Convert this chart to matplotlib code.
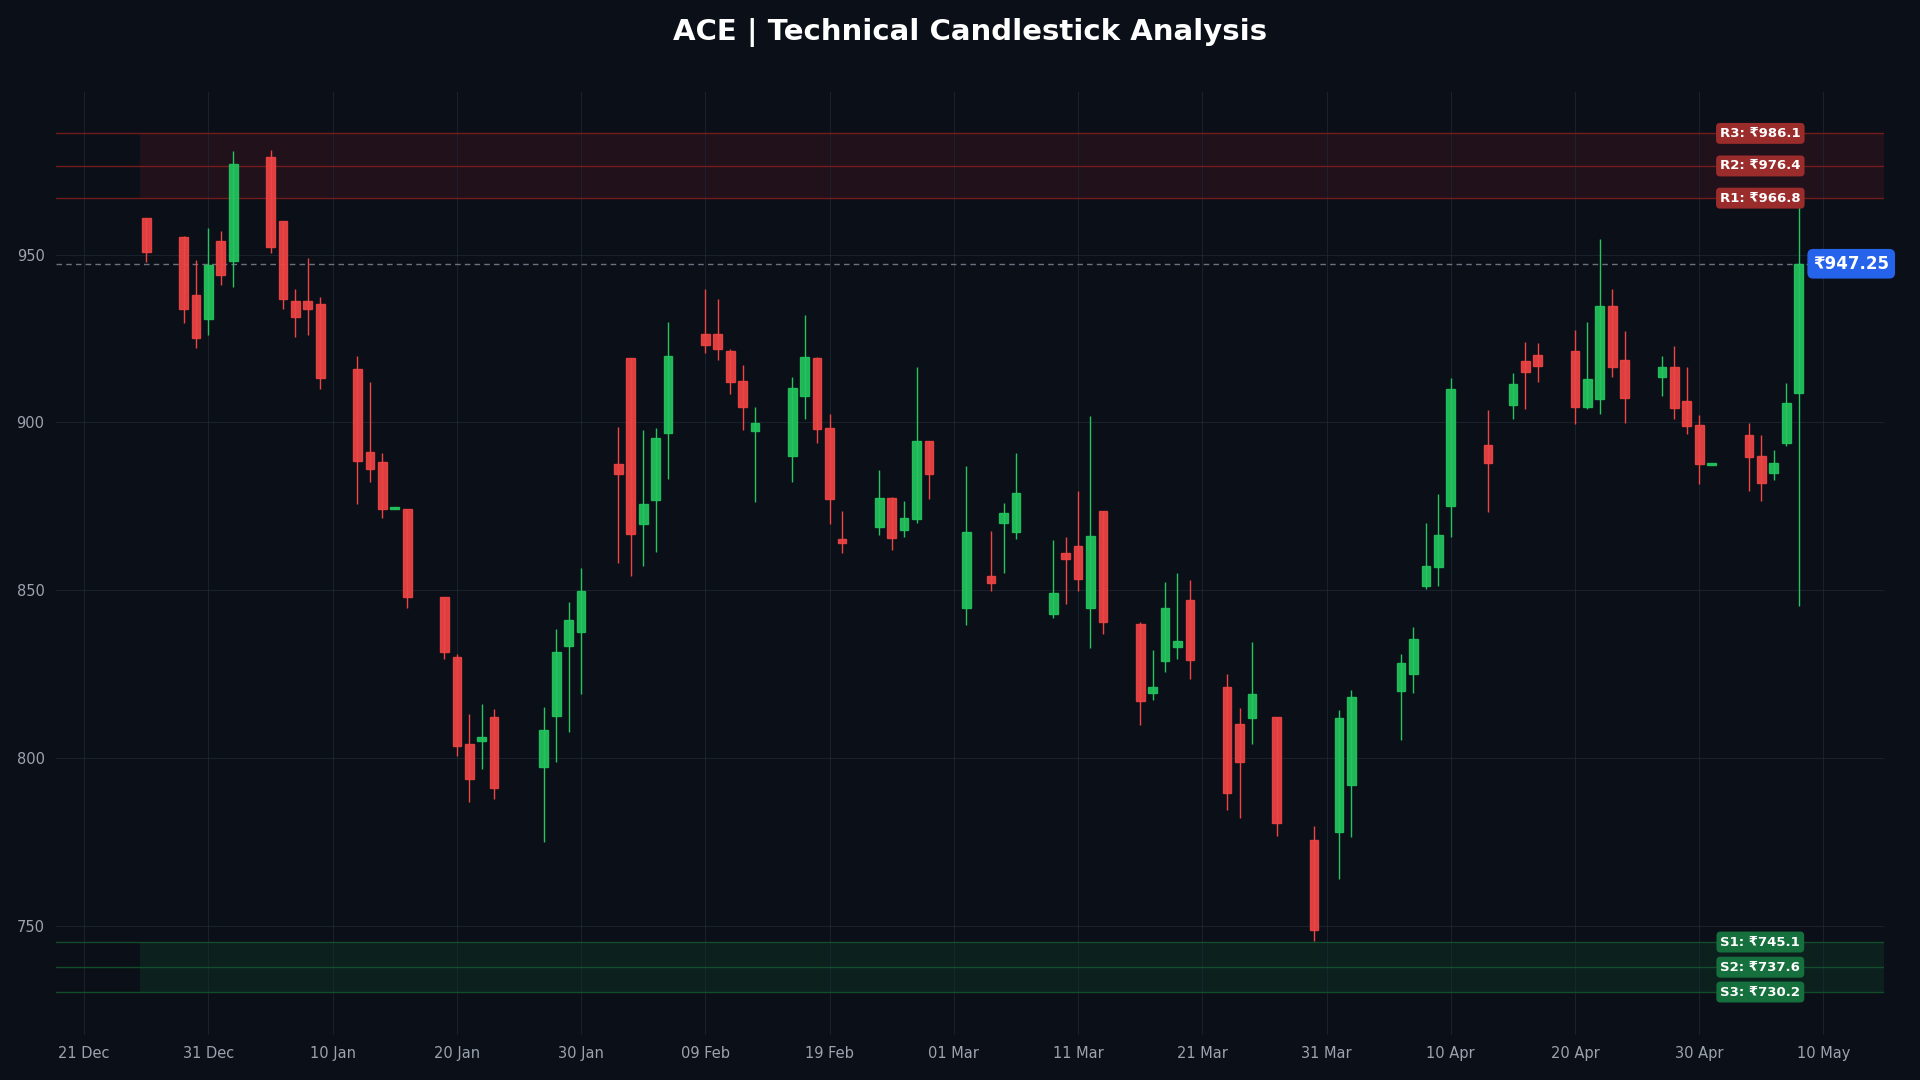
import matplotlib
matplotlib.use("Agg")
import matplotlib.pyplot as plt
import matplotlib.dates as mdates
from matplotlib.patches import Rectangle
import numpy as np
import datetime as dt

dates = ["2025-12-26","2025-12-29","2025-12-30","2025-12-31","2026-01-01","2026-01-02",
         "2026-01-05","2026-01-06","2026-01-07","2026-01-08","2026-01-09",
         "2026-01-12","2026-01-13","2026-01-14","2026-01-15","2026-01-16",
         "2026-01-19","2026-01-20","2026-01-21","2026-01-22","2026-01-23",
         "2026-01-27","2026-01-28","2026-01-29","2026-01-30",
         "2026-02-02","2026-02-03","2026-02-04","2026-02-05","2026-02-06",
         "2026-02-09","2026-02-10","2026-02-11","2026-02-12","2026-02-13",
         "2026-02-16","2026-02-17","2026-02-18","2026-02-19","2026-02-20",
         "2026-02-23","2026-02-24","2026-02-25","2026-02-26","2026-02-27",
         "2026-03-02","2026-03-04","2026-03-05","2026-03-06",
         "2026-03-09","2026-03-10","2026-03-11","2026-03-12","2026-03-13",
         "2026-03-16","2026-03-17","2026-03-18","2026-03-19","2026-03-20",
         "2026-03-23","2026-03-24","2026-03-25","2026-03-27",
         "2026-03-30","2026-04-01","2026-04-02",
         "2026-04-06","2026-04-07","2026-04-08","2026-04-09","2026-04-10",
         "2026-04-13","2026-04-15","2026-04-16","2026-04-17",
         "2026-04-20","2026-04-21","2026-04-22","2026-04-23","2026-04-24",
         "2026-04-27","2026-04-28","2026-04-29","2026-04-30","2026-05-01",
         "2026-05-04","2026-05-05","2026-05-06","2026-05-07","2026-05-08"]

opens = [960.9,955.2,937.9,930.7,954.0,948.2,
         979.0,960.0,936.1,936.1,935.2,
         915.8,891.1,888.1,874.3,874.3,
         848.0,830.0,804.0,805.0,812.1,
         797.3,812.5,833.4,837.6,
         887.5,919.1,869.6,876.8,896.8,
         926.3,926.3,921.2,912.3,897.3,
         889.9,907.7,919.1,898.2,865.2,
         868.7,877.4,867.8,871.1,894.4,
         844.6,854.1,869.9,867.2,
         842.8,861.0,863.1,844.6,873.5,
         840.0,819.2,828.8,832.9,847.0,
         821.0,810.0,811.8,812.1,
         775.4,778.0,792.0,
         820.0,825.0,851.2,857.0,875.0,
         893.2,905.1,918.2,920.0,
         921.2,904.5,906.9,934.6,918.5,
         913.4,916.4,906.3,899.1,887.4,
         896.2,889.9,884.8,893.8,908.7]

highs = [960.9,955.5,948.4,957.9,957.1,980.9,
         981.2,960.0,939.8,949.0,937.4,
         919.8,912.0,890.8,874.8,874.3,
         848.0,831.0,813.0,816.1,814.6,
         815.0,838.4,846.5,856.6,
         898.6,919.1,897.6,898.3,929.9,
         939.8,936.8,921.8,917.1,904.5,
         913.4,932.0,919.5,902.5,873.6,
         885.8,877.7,876.6,916.5,894.4,
         887.1,867.6,875.9,890.9,
         864.9,865.8,879.6,901.9,873.5,
         840.5,832.1,852.4,855.1,853.0,
         825.0,814.8,834.5,812.1,
         779.6,814.2,820.2,
         830.9,838.9,870.0,878.6,913.2,
         903.7,914.7,924.0,923.7,
         927.5,930.0,954.7,939.8,927.3,
         919.8,922.8,916.5,902.2,887.7,
         899.8,896.2,891.8,911.8,965.0]

lows = [947.9,929.7,922.0,926.1,941.0,940.2,
        950.6,933.8,925.3,925.9,909.9,
        875.7,882.2,871.6,874.2,844.8,
        829.6,800.6,786.9,796.7,787.7,
        775.0,798.9,807.8,819.0,
        858.2,854.3,857.3,861.3,883.2,
        920.8,918.7,908.3,897.8,876.3,
        882.3,901.1,893.7,869.8,860.9,
        866.5,861.9,865.9,870.0,877.0,
        839.6,849.8,855.2,865.3,
        841.8,845.7,849.8,832.8,837.0,
        809.9,817.2,825.7,829.5,823.6,
        784.5,782.2,804.2,776.8,
        745.3,763.9,776.5,
        805.4,819.4,850.2,851.3,865.9,
        873.4,900.9,904.0,911.9,
        899.6,904.0,902.6,913.6,899.9,
        907.7,901.1,896.6,881.7,887.3,
        879.6,876.6,882.9,892.8,845.3]

closes = [950.9,933.7,925.1,946.8,943.9,977.0,
          952.2,936.7,931.5,933.7,913.1,
          888.6,886.2,874.3,874.6,847.9,
          831.5,803.6,793.8,806.3,791.1,
          808.4,831.4,841.0,849.6,
          884.5,866.6,875.6,895.3,919.7,
          923.0,921.8,912.1,904.5,899.9,
          910.2,919.4,897.9,877.1,864.0,
          877.4,865.5,871.4,894.4,884.5,
          867.3,852.2,872.9,878.9,
          849.1,859.4,853.2,866.0,840.4,
          817.0,821.0,844.6,834.7,829.1,
          789.4,798.7,818.9,780.5,
          748.7,811.8,818.1,
          828.4,835.3,857.3,866.3,909.8,
          887.8,911.4,914.9,916.7,
          904.5,912.9,934.6,916.4,907.2,
          916.4,904.2,898.8,887.5,887.6,
          889.6,881.8,887.8,905.8,947.25]

res_names = ["R1", "R2", "R3"]
res_levels = [966.8, 976.4, 986.1]
sup_names = ["S1", "S2", "S3"]
sup_levels = [745.1, 737.6, 730.2]
last_price = 947.25
title = "ACE | Technical Candlestick Analysis"

BG = "#0b0f17"
GREEN = "#22c55e"
RED = "#ef4444"
FONT = ["DejaVu Sans", "Noto Sans"]
plt.rcParams["font.family"] = FONT

fig = plt.figure(figsize=(19.2, 10.8), dpi=100, facecolor=BG)
ax = fig.add_axes([0.029, 0.042, 0.952, 0.873])
ax.set_facecolor(BG)

x = mdates.date2num([dt.datetime.strptime(d, "%Y-%m-%d") for d in dates])
w = 0.7
for xi, o, h, l, c in zip(x, opens, highs, lows, closes):
    col = GREEN if c >= o else RED
    ax.vlines(xi, l, h, color=col, lw=1.0, zorder=3)
    bot = min(o, c)
    hgt = max(abs(c - o), 0.6)
    ax.add_patch(Rectangle((xi - w / 2, bot), w, hgt, facecolor=col, edgecolor=col,
                           lw=1.0, alpha=0.92, zorder=4))

x0 = mdates.date2num(dt.datetime(2025, 12, 18, 17))
x1 = mdates.date2num(dt.datetime(2026, 5, 14, 20))
ax.set_xlim(x0, x1)
ax.set_ylim(717.5, 998.5)

# zones
ax.fill_between([x[0] - 0.5, x1], min(res_levels), max(res_levels), color="#3a1520", alpha=0.45, lw=0, zorder=1)
ax.fill_between([x[0] - 0.5, x1], min(sup_levels), max(sup_levels), color="#0f3a2a", alpha=0.4, lw=0, zorder=1)
lab_x = mdates.date2num(dt.datetime(2026, 5, 4, 22))
for n, v in zip(res_names, res_levels):
    ax.axhline(v, color="#7f1d1d", lw=1.0, alpha=0.9, zorder=2)
    ax.text(lab_x, v, f"{n}: ₹{v:.1f}", color="white", fontsize=9.5, fontweight="bold",
            ha="center", va="center", zorder=6,
            bbox=dict(boxstyle="round,pad=0.3", fc="#9b2c2c", ec="none"))
for n, v in zip(sup_names, sup_levels):
    ax.axhline(v, color="#14532d", lw=1.0, alpha=0.9, zorder=2)
    ax.text(lab_x, v, f"{n}: ₹{v:.1f}", color="white", fontsize=9.5, fontweight="bold",
            ha="center", va="center", zorder=6,
            bbox=dict(boxstyle="round,pad=0.3", fc="#15703d", ec="none"))

ax.axhline(last_price, color="#6b7280", lw=1.0, ls=(0, (4, 3)), zorder=2)
ax.text(x1 - 2.6, last_price, f"₹{last_price:.2f}", color="white", fontsize=12, fontweight="bold",
        ha="center", va="center", zorder=7,
        bbox=dict(boxstyle="round,pad=0.35", fc="#2563eb", ec="none"))

ax.set_yticks([750, 800, 850, 900, 950])
ticks = [mdates.date2num(dt.datetime(2025, 12, 21)) + 10 * i for i in range(15)]
ax.set_xticks(ticks)
ax.xaxis.set_major_formatter(mdates.DateFormatter("%d %b"))
ax.tick_params(colors="#9ca3af", labelsize=10.5, length=0, pad=8)
ax.grid(True, color="#1f2937", lw=0.8, alpha=0.7, zorder=0)
for s in ax.spines.values():
    s.set_visible(False)

fig.text(0.505, 0.970, title, color="white", fontsize=21, fontweight="bold", ha="center", va="center")
fig.savefig("out.png", dpi=100, facecolor=BG)
